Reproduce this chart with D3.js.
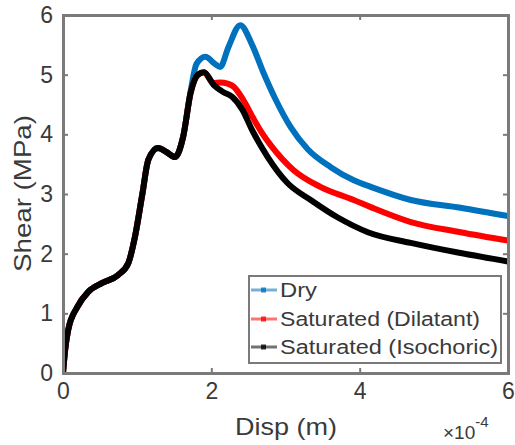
<!DOCTYPE html>
<html><head><meta charset="utf-8">
<script src="https://cdn.jsdelivr.net/npm/d3@7"></script>
<style>body{margin:0;background:#fff}svg{display:block}text{font-family:"Liberation Sans",Arial,sans-serif;fill:#3a3a3a}</style>
</head><body><svg id="c" width="515" height="445"></svg>
<script>
// Displacement in units of 1e-4 m, shear in MPa
const xTicks = [0, 2, 4, 6];
const yTicks = [0, 1, 2, 3, 4, 5, 6];
const seriesNames = ["Dry", "Saturated (Dilatant)", "Saturated (Isochoric)"];
const seriesColors = ["#0072BD", "#FF0000", "#000000"];

const dispIso  = [0, 0.03, 0.07, 0.19, 0.34, 0.53, 0.74, 0.88, 0.97, 1.07, 1.15, 1.28, 1.4, 1.51, 1.62, 1.72, 1.82, 1.9, 2.03, 2.16, 2.28, 2.42, 2.55, 2.76, 3.03, 3.34, 3.7, 4.11, 4.69, 5.36, 6.0];
const shearIso = [0, 0.4, 0.72, 1.1, 1.36, 1.51, 1.64, 1.84, 2.28, 3.0, 3.57, 3.77, 3.7, 3.62, 3.96, 4.69, 5.0, 5.04, 4.83, 4.71, 4.63, 4.41, 4.07, 3.62, 3.18, 2.9, 2.61, 2.36, 2.18, 2.01, 1.87];

const dispDil  = [0, 0.03, 0.07, 0.19, 0.34, 0.53, 0.74, 0.88, 0.97, 1.07, 1.15, 1.28, 1.4, 1.51, 1.62, 1.72, 1.82, 1.9, 2.03, 2.12, 2.22, 2.3, 2.42, 2.57, 2.68, 2.8, 3.11, 3.47, 3.92, 4.15, 4.69, 5.36, 6.0];
const shearDil = [0, 0.4, 0.72, 1.1, 1.36, 1.51, 1.64, 1.84, 2.28, 3.0, 3.57, 3.77, 3.7, 3.62, 3.96, 4.69, 5.0, 5.04, 4.86, 4.87, 4.85, 4.8, 4.6, 4.26, 4.03, 3.82, 3.4, 3.12, 2.9, 2.78, 2.53, 2.36, 2.22];

const dispDry  = [0, 0.03, 0.07, 0.19, 0.34, 0.53, 0.74, 0.88, 0.97, 1.07, 1.15, 1.28, 1.4, 1.51, 1.62, 1.72, 1.8, 1.92, 2.05, 2.12, 2.23, 2.39, 2.55, 2.7, 2.86, 3.07, 3.3, 3.61, 3.92, 4.15, 4.69, 5.36, 6.0];
const shearDry = [0, 0.4, 0.72, 1.1, 1.36, 1.51, 1.64, 1.84, 2.28, 3.0, 3.57, 3.77, 3.7, 3.62, 3.96, 4.72, 5.18, 5.3, 5.18, 5.13, 5.46, 5.83, 5.5, 5.04, 4.6, 4.12, 3.75, 3.45, 3.23, 3.12, 2.9, 2.77, 2.63];

const svg = d3.select("#c");
const L = 63, R = 508, T = 15, B = 373;
const x = d3.scaleLinear().domain([0, 6]).range([L, R]);
const y = d3.scaleLinear().domain([0, 6]).range([B, T]);

const data = [
  {name: seriesNames[2], color: seriesColors[2], xs: dispIso, ys: shearIso},
  {name: seriesNames[1], color: seriesColors[1], xs: dispDil, ys: shearDil},
  {name: seriesNames[0], color: seriesColors[0], xs: dispDry, ys: shearDry}
];

svg.append("clipPath").attr("id","clip").append("rect").attr("x",L).attr("y",T).attr("width",R-L+3).attr("height",B-T);

const line = d3.line().x(d => x(d[0])).y(d => y(d[1])).curve(d3.curveMonotoneX);
// draw order: Dry, Dilatant, Isochoric on top
[data[2], data[1], data[0]].forEach(s => {
  svg.append("path")
    .datum(s.xs.map((v, i) => [v, s.ys[i]]))
    .attr("d", line).attr("fill", "none")
    .attr("stroke", s.color).attr("stroke-width", 6)
    .attr("stroke-linejoin", "round").attr("stroke-linecap", "butt")
    .attr("clip-path", "url(#clip)");
});

const axCol = "#7a7a7a";
// axes with inward ticks on all sides
const gB = svg.append("g").attr("transform", `translate(0,${B})`)
  .call(d3.axisBottom(x).tickValues(xTicks).tickSize(-5).tickPadding(10).tickFormat(d3.format("d")));
const gT = svg.append("g").attr("transform", `translate(0,${T})`)
  .call(d3.axisTop(x).tickValues(xTicks).tickSize(-5).tickFormat(""));
const gL = svg.append("g").attr("transform", `translate(${L},0)`)
  .call(d3.axisLeft(y).tickValues(yTicks).tickSize(-5).tickPadding(10).tickFormat(d3.format("d")));
const gR = svg.append("g").attr("transform", `translate(${R},0)`)
  .call(d3.axisRight(y).tickValues(yTicks).tickSize(-5).tickFormat(""));
[gB, gT, gL, gR].forEach(g => {
  g.select(".domain").attr("stroke", axCol).attr("stroke-width", 3);
  g.selectAll(".tick line").attr("stroke", axCol).attr("stroke-width", 2);
  g.selectAll(".tick text").attr("font-size", 23).attr("fill", "#444")
    .style("font-family", '"Liberation Sans", Arial, sans-serif');
});
gB.selectAll(".tick text").attr("dy", "0.71em");

// axis labels
svg.append("text").attr("x", 286).attr("y", 435).attr("text-anchor", "middle")
  .attr("font-size", 24).attr("textLength", 102).attr("lengthAdjust", "spacingAndGlyphs").text("Disp (m)");
svg.append("text").attr("transform", "translate(31,193.5) rotate(-90)").attr("text-anchor", "middle")
  .attr("font-size", 24).attr("textLength", 157).attr("lengthAdjust", "spacingAndGlyphs").text("Shear (MPa)");

// exponent
const ex = svg.append("text").attr("x", 443).attr("y", 439).attr("font-size", 19).attr("fill", "#555");
ex.append("tspan").text("\u00d710");
ex.append("tspan").attr("dy", -12).attr("font-size", 15).text("-4");

// legend
const lg = svg.append("g");
lg.append("rect").attr("x", 249).attr("y", 276).attr("width", 252).attr("height", 87)
  .attr("fill", "#fff").attr("stroke", axCol).attr("stroke-width", 2);
const rowsY = [290, 319, 347];
const textLens = [37, 200, 218];
data.slice().reverse().forEach((s, i) => {
  const yy = rowsY[i];
  lg.append("line").attr("x1", 251).attr("x2", 277).attr("y1", yy).attr("y2", yy)
    .attr("stroke", s.color).attr("stroke-width", 3).attr("opacity", 0.55);
  lg.append("rect").attr("x", 261).attr("y", yy - 2.5).attr("width", 5).attr("height", 5).attr("fill", s.color).attr("opacity", 0.8);
  lg.append("text").attr("x", 280).attr("y", yy + 7).attr("font-size", 20)
    .attr("textLength", textLens[i]).attr("lengthAdjust", "spacingAndGlyphs").attr("fill", "#333").text(s.name);
});
</script></body></html>
